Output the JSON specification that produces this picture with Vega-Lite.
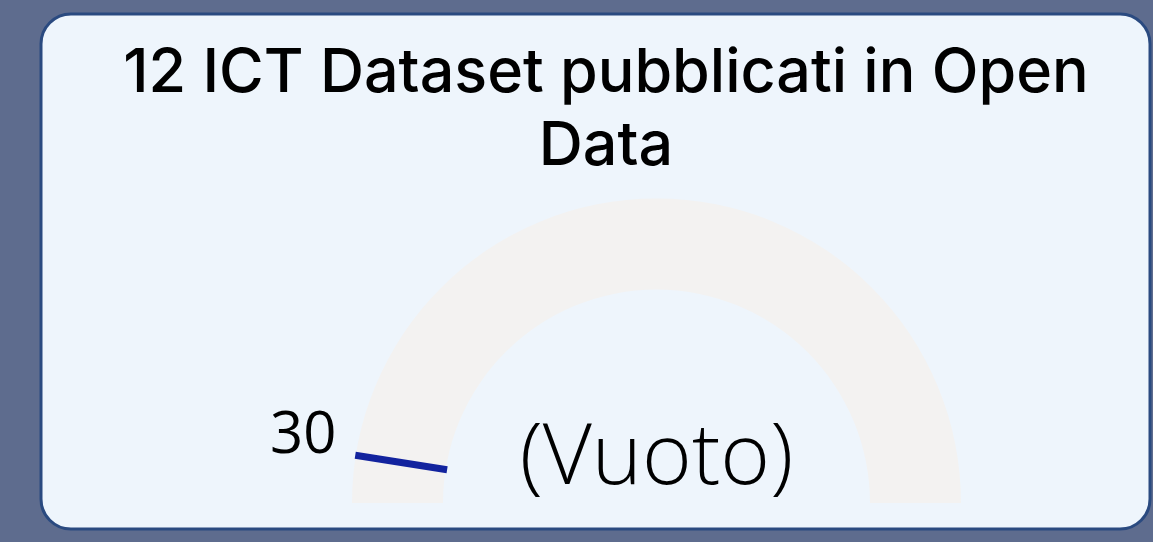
{
  "$schema": "https://vega.github.io/schema/vega-lite/v6.json",
  "width": 1109,
  "height": 515,
  "autosize": {"type": "none"},
  "padding": {"left": 41, "top": 14, "right": 3, "bottom": 13},
  "background": "#5E6C8E",
  "config": {
    "view": {"fill": "#EEF5FC", "stroke": "#2A4A80", "strokeWidth": 3, "cornerRadius": 30}
  },
  "data": {
    "values": [
      {"title": "12 ICT Dataset pubblicati in Open\nData", "min": 0, "max": 600, "target": 30, "callout": "(Vuoto)"}
    ]
  },
  "encoding": {
    "x": {"datum": 0, "type": "quantitative", "scale": {"domain": [-2.0213, 1.6207], "nice": false, "zero": false}, "axis": null},
    "y": {"datum": 0, "type": "quantitative", "scale": {"domain": [-0.0854, 1.6059], "nice": false, "zero": false}, "axis": null}
  },
  "layer": [
    {
      "mark": {"type": "arc", "radius": 304.5, "radius2": 213.5, "color": "#F3F2F1"},
      "encoding": {
        "theta": {"field": "min", "type": "quantitative", "stack": null, "scale": {"domain": [0, 600], "range": [-1.5707963, 1.5707963]}},
        "theta2": {"field": "max"}
      }
    },
    {
      "mark": {"type": "arc", "radius": 305, "radius2": 212, "fillOpacity": 0, "stroke": "#12239E", "strokeWidth": 7},
      "encoding": {
        "theta": {"field": "target", "type": "quantitative", "stack": null},
        "theta2": {"field": "target"}
      }
    },
    {
      "mark": {"type": "text", "radius": 320, "align": "right", "baseline": "alphabetic", "dx": -4, "font": "Open Sans", "fontSize": 58, "color": "#000000"},
      "encoding": {
        "theta": {"field": "target", "type": "quantitative", "stack": null},
        "text": {"field": "target", "type": "quantitative"}
      }
    },
    {
      "mark": {"type": "text", "align": "center", "baseline": "alphabetic", "dy": -19, "font": "Open Sans", "fontWeight": 300, "fontSize": 85, "color": "#000000"},
      "encoding": {
        "text": {"field": "callout", "type": "nominal"}
      }
    },
    {
      "mark": {"type": "text", "align": "center", "baseline": "alphabetic", "lineBreak": "\n", "lineHeight": 73, "font": "Inter", "fontWeight": 500, "fontSize": 61, "color": "#000000"},
      "encoding": {
        "x": {"datum": -0.1658, "type": "quantitative"},
        "y": {"datum": 1.3497, "type": "quantitative"},
        "text": {"field": "title", "type": "nominal"}
      }
    }
  ]
}
